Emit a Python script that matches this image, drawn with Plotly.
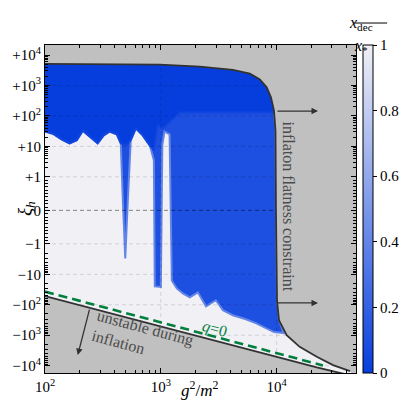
import numpy as np
import plotly.graph_objects as go

# g^2/m^2 (x) and xi_h (y)
upper_x = [100, 980, 2170, 4190, 5870, 7160, 8200, 8930, 9480, 9770, 9860,
           9950, 10070, 10470, 12200, 15800, 22200, 30700, 43000]
upper_xi = [5130, 4880, 4170, 3240, 2460, 1580, 870, 410, 150, 33, 0,
            -16, -71, -320, -1000, -2400, -5100, -9600, -15000]

lower_x = [100, 1000, 5870, 22200, 38900]
lower_xi = [-52, -525, -3090, -11400, -18900]

q0_x = [100, 1000, 10000, 22200, 25100]
q0_xi = [-37, -370, -3900, -8500, -9800]

# lower edge of the blue (early decoupling) region
blue_x = [100, 117, 139, 163, 188, 212, 243, 285, 321, 362, 417, 451, 470, 493,
          519, 550, 608, 698, 804, 871, 887, 1000, 1030, 1075, 1190, 1245, 1374,
          1549, 1778, 2089, 2455, 2985, 3436, 4188, 5433, 6607, 8072, 9484, 11500]
blue_xi = [31, 26, 17, 12.6, 16, 33, 21, 12.6, 23, 31, 25, 12.6, 0.3, -3,
           0.3, 16, 39, 23, 10.7, 3.5, -25, -26, 11, 31, 25, -16, -29,
           -42, -57, -39, -112, -71, -150, -220, -300, -400, -590, -790, -850]

# lower edge of the deepest blue part
deep_x = [100, 117, 139, 163, 188, 212, 243, 285, 321, 362, 417, 451, 498,
          550, 608, 698, 804, 871, 942, 1031, 1084, 1245, 1459, 9863]
deep_xi = [31, 26, 17, 12.6, 16, 33, 21, 12.6, 23, 31, 25, 12.6, 10.7,
           16, 39, 23, 10.7, 7.4, 49, 39, 45, 71, 129, 129]
deep_z = 0.0
mid_z = 0.1
edge_z = 0.4

y_ticks = [1e4, 1e3, 1e2, 10, 1, 0, -1, -10, -1e2, -1e3, -1e4]
y_labels = ['+10<sup>4</sup>', '+10<sup>3</sup>', '+10<sup>2</sup>', '+10', '+1', '0',
            '\u22121', '\u221210', '\u221210<sup>2</sup>', '\u221210<sup>3</sup>',
            '\u221210<sup>4</sup>']
cb_ticks = [0, 0.2, 0.4, 0.6, 0.8, 1]

c0 = np.array([6, 62, 222])
c1 = np.array([240, 240, 245])
scale = [[0, 'rgb(6,62,222)'], [1, 'rgb(240,240,245)']]


def col(z):
    c = c0 + (c1 - c0) * z
    return 'rgb(%d,%d,%d)' % tuple(c)


def sl(v):
    v = np.asarray(v, float)
    a = np.abs(v)
    return np.sign(v) * np.where(a >= 1, 1.1 + np.log10(np.maximum(a, 1)), 1.1 * a)


xr = [2, 4.685]
yr = [-5.34, 5.43]
ink = 'rgb(50,50,50)'
font = 'Liberation Serif'

fig = go.Figure()

# blue region: mid tone with a soft edge, deep tone on top
fig.add_trace(go.Scatter(x=upper_x[:14] + blue_x[::-1], y=sl(upper_xi[:14] + blue_xi[::-1]),
                         fill='toself', fillcolor=col(mid_z), mode='lines', hoverinfo='skip',
                         line=dict(color=col(edge_z), width=2)))
fig.add_trace(go.Scatter(x=upper_x[:9] + deep_x[::-1], y=sl(upper_xi[:9] + deep_xi[::-1]),
                         fill='toself', fillcolor=col(deep_z), mode='lines', hoverinfo='skip',
                         line=dict(color=col(0.05), width=2)))

# grid
for t in y_ticks:
    c = 'rgba(0,0,0,0.45)' if t == 0 else 'rgba(0,0,0,0.13)'
    fig.add_trace(go.Scatter(x=[100, 48400], y=sl([t, t]), mode='lines', hoverinfo='skip',
                             line=dict(color=c, width=1, dash='4px,3px')))
for t in [1000, 10000]:
    fig.add_trace(go.Scatter(x=[t, t], y=yr, mode='lines', hoverinfo='skip',
                             line=dict(color='rgba(0,0,0,0.13)', width=1, dash='4px,3px')))

# excluded regions
gray = 'rgb(192,192,192)'
fig.add_trace(go.Scatter(x=upper_x + [1e5, 1e5, 50, 50], y=sl(upper_xi + [-1e6, 1e6, 1e6, 5130]),
                         fill='toself', fillcolor=gray, mode='none', hoverinfo='skip'))
fig.add_trace(go.Scatter(x=lower_x + [1e5, 50, 50], y=sl(lower_xi + [-1e6, -1e6, -52]),
                         fill='toself', fillcolor=gray, mode='none', hoverinfo='skip'))

# boundaries
fig.add_trace(go.Scatter(x=upper_x, y=sl(upper_xi), mode='lines', line=dict(color=ink, width=1.8)))
fig.add_trace(go.Scatter(x=lower_x, y=sl(lower_xi), mode='lines', line=dict(color=ink, width=1.8)))
fig.add_trace(go.Scatter(x=q0_x, y=sl(q0_xi), mode='lines',
                         line=dict(color='rgb(0,128,60)', width=2.6, dash='9px,5px')))

# colorbar
fig.add_trace(go.Scatter(x=[100], y=[0], mode='markers', hoverinfo='skip',
                         marker=dict(size=0.1, opacity=0, color=[0], cmin=0, cmax=1,
                                     colorscale=scale, showscale=True,
                                     colorbar=dict(thickness=10, len=1, lenmode='fraction',
                                                   x=1.0215, xanchor='left', xpad=0, y=0.5,
                                                   yanchor='middle', ypad=0, outlinewidth=1,
                                                   outlinecolor='black', tickvals=cb_ticks,
                                                   ticktext=['%g' % v for v in cb_ticks],
                                                   ticks='outside', ticklen=4, tickcolor='black',
                                                   tickfont=dict(family=font, size=15,
                                                                 color='black')))))

# annotations
arr = dict(showarrow=True, arrowhead=2, arrowsize=1, arrowwidth=1.3, arrowcolor=ink,
           xref='x', yref='y', axref='x', ayref='y', text='')
fig.add_annotation(x=4.357, y=3.26, ax=3.994, ay=3.26, **arr)
fig.add_annotation(x=4.357, y=-3.04, ax=3.994, ay=-3.04, **arr)
fig.add_annotation(x=2.283, y=-4.75, ax=2.387, ay=-3.21, **arr)

tf = dict(family=font, size=16, color='rgb(75,75,75)')
fig.add_annotation(x=4.106, y=0.13, xref='x', yref='y', text='inflaton flatness constraint',
                   textangle=90, showarrow=False, font=tf)
fig.add_annotation(x=2.845, y=-4.2, xref='x', yref='y', text='unstable during<br>inflation',
                   textangle=15, showarrow=False, align='left', font=tf)
fig.add_annotation(x=3.467, y=-3.9, xref='x', yref='y', text='<i>q</i>=0',
                   textangle=15, showarrow=False, font=dict(family=font, size=16, color='rgb(0,128,60)'))

lf = dict(family=font, size=17, color='black')
fig.add_annotation(x=0.498, y=-0.088, xref='paper', yref='paper', showarrow=False,
                   text='<i>g</i><sup>2</sup>/<i>m</i><sup>2</sup>', font=lf)
fig.add_annotation(x=-0.106, y=0.5, xref='paper', yref='paper', showarrow=False, textangle=-90,
                   text='<i>\u03be</i><sub><i>h</i></sub>', font=dict(family=font, size=19, color='black'))
fig.add_annotation(x=1.061, y=1.1, xref='paper', yref='paper', showarrow=False,
                   text='<i>x</i><sub>dec</sub>', font=dict(family=font, size=16, color='black'))
fig.add_annotation(x=1.045, y=1.03, xref='paper', yref='paper', showarrow=False,
                   text='<i>x</i><sub>*</sub>', font=dict(family=font, size=16, color='black'))
fig.add_shape(type='line', xref='paper', yref='paper', x0=0.994, x1=1.10, y0=1.067, y1=1.067,
              line=dict(color='black', width=1))

minor_y = []
for k in range(4):
    for m in range(2, 10):
        minor_y += [1.1 + k + np.log10(m), -(1.1 + k + np.log10(m))]
for m in range(1, 10):
    minor_y += [0.11 * m, -0.11 * m]

ax_common = dict(showline=True, linecolor='black', linewidth=1.2, mirror='allticks',
                 ticks='inside', ticklen=5, tickcolor='black', showgrid=False, zeroline=False,
                 automargin=False, tickfont=dict(family=font, size=15, color='black'))
fig.update_xaxes(type='log', range=xr, tickvals=[100, 1000, 10000],
                 ticktext=['10<sup>2</sup>', '10<sup>3</sup>', '10<sup>4</sup>'],
                 minor=dict(ticks='inside', ticklen=3, dtick='D1', tickcolor='black'),
                 **ax_common)
fig.update_yaxes(range=yr, tickvals=list(sl(y_ticks)), ticktext=y_labels,
                 minor=dict(ticks='inside', ticklen=3, tickmode='array', tickvals=minor_y,
                            tickcolor='black'),
                 **ax_common)
# the page body adds 8 px round the figure; keep the colorbar from pushing the margins
fig.update_layout(template='none', width=391, height=403,
                  margin=dict(l=37, r=43, t=37, b=38, autoexpand=False),
                  plot_bgcolor='rgb(240,240,245)', paper_bgcolor='white', showlegend=False,
                  font=dict(family=font))
fig.write_html('out.html')
